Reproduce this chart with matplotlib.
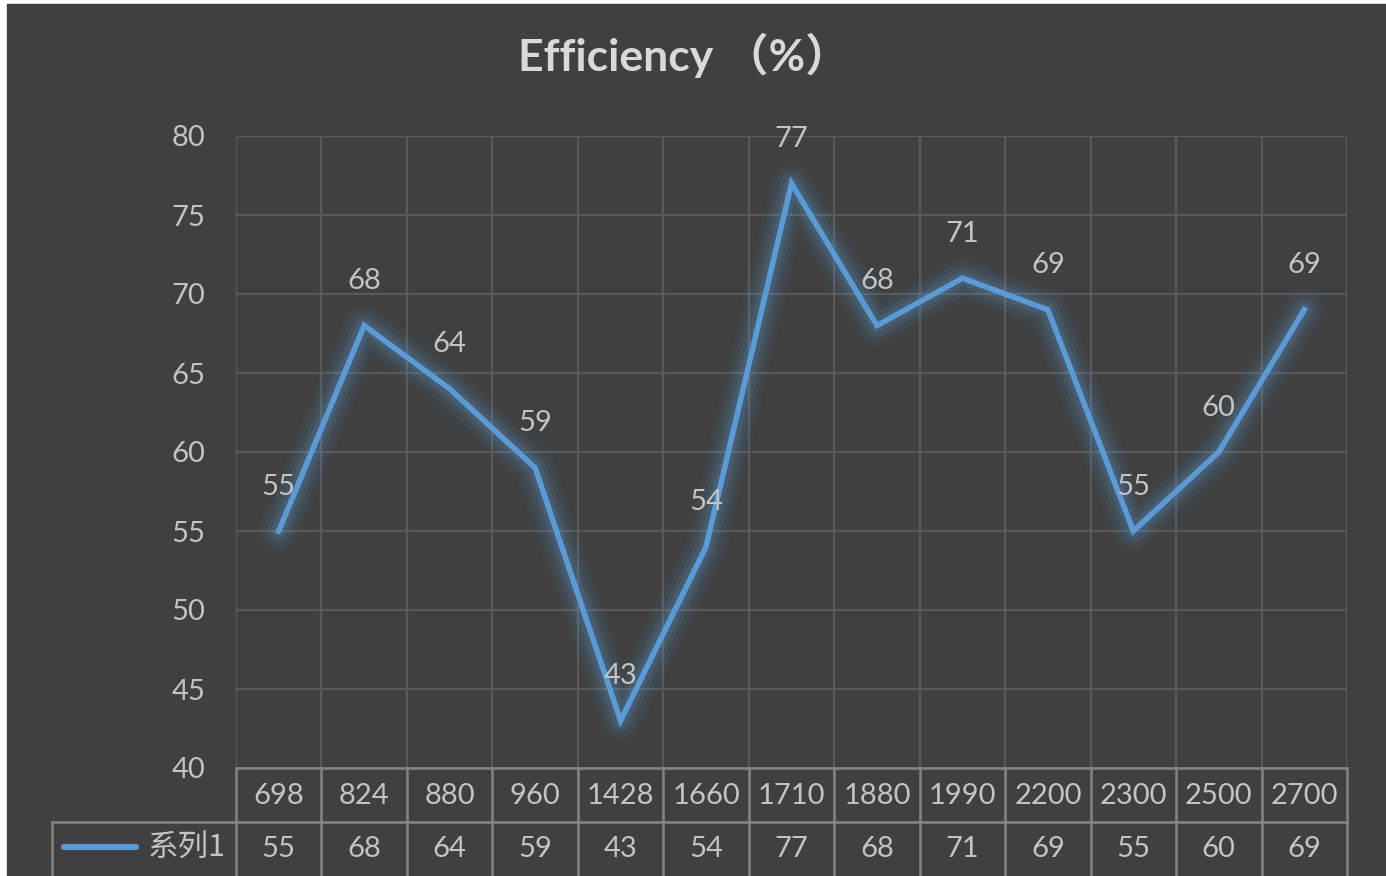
import matplotlib
matplotlib.use("Agg")
import matplotlib.pyplot as plt
from matplotlib.lines import Line2D
from matplotlib.patches import Rectangle
import matplotlib.transforms as mtransforms

# Dados do gráfico
categorias = ["698", "824", "880", "960", "1428", "1660", "1710",
              "1880", "1990", "2200", "2300", "2500", "2700"]
eficiencia = [55, 68, 64, 59, 43, 54, 77, 68, 71, 69, 55, 60, 69]
serie_nome = "系列1"
titulo = "Efficiency （%）"
yticks = [40, 45, 50, 55, 60, 65, 70, 75, 80]

# Cores
fundo = "#404040"
grade = "#595959"
borda_tabela = "#858585"
texto = "#C4C4C4"
azul = "#5B9BD5"

W, H = 1386, 876
plt.rcParams["font.family"] = ["Lato", "Noto Sans CJK SC", "DejaVu Sans"]

fig = plt.figure(figsize=(W / 100, H / 100), dpi=100, facecolor="white")

# fundo escuro (com pequena margem branca à esquerda e em cima)
fig.patches.append(Rectangle((7 / W, 0), 1 - 7 / W, 1 - 4 / H,
                             transform=fig.transFigure, color=fundo, zorder=-1))

ax = fig.add_axes([236 / W, 1 - 768 / H, (1347 - 236) / W, (768 - 136) / H])
ax.patch.set_alpha(0)

x = list(range(len(categorias)))

# brilho em volta da linha
for lw, a in [(30, 0.05), (23, 0.07), (16, 0.10), (10, 0.15)]:
    ax.plot(x, eficiencia, color=azul, lw=lw, alpha=a,
            solid_capstyle="round", solid_joinstyle="round", zorder=3)
ax.plot(x, eficiencia, color=azul, lw=4.0, solid_joinstyle="miter", zorder=4)

# rótulos de dados
for xi, v in zip(x, eficiencia):
    ax.annotate(str(v), (xi, v), xytext=(0, 32), textcoords="offset points",
                ha="center", va="center", fontsize=21, color=texto, zorder=5)

ax.set_xlim(-0.5, len(categorias) - 0.5)
ax.set_ylim(40, 80)
ax.set_yticks(yticks)
ax.set_xticks([i - 0.5 for i in range(len(categorias) + 1)])
ax.tick_params(axis="both", length=0, colors=texto, labelsize=21, pad=22)
ax.set_xticklabels([])
ax.grid(True, color=grade, lw=1.6, zorder=1)
for s in ax.spines.values():
    s.set_visible(False)

# tabela de dados embaixo do gráfico
def fy(px):
    return 1 - px / H

trans = mtransforms.blended_transform_factory(ax.transData, fig.transFigure)
for i in range(len(categorias) + 1):
    fig.add_artist(Line2D([i - 0.5, i - 0.5], [fy(768), fy(876)], color=borda_tabela,
                          lw=1.8, transform=trans))
fig.add_artist(Line2D([236 / W, 1347 / W], [fy(768), fy(768)], color=borda_tabela,
                      lw=1.8, transform=fig.transFigure))
fig.add_artist(Line2D([52 / W, 1347 / W], [fy(822), fy(822)], color=borda_tabela,
                      lw=1.8, transform=fig.transFigure))
fig.add_artist(Line2D([52 / W, 52 / W], [fy(822), fy(876)], color=borda_tabela,
                      lw=1.8, transform=fig.transFigure))

for xi, cat, v in zip(x, categorias, eficiencia):
    fig.text(xi, fy(796), cat, transform=trans, ha="center", va="center",
             fontsize=21, color=texto)
    fig.text(xi, fy(849), str(v), transform=trans, ha="center", va="center",
             fontsize=21, color=texto)

# legenda na tabela
fig.add_artist(Line2D([64 / W, 136 / W], [fy(847), fy(847)], color=azul, lw=4.5,
                      solid_capstyle="round", transform=fig.transFigure))
fig.text(226 / W, fy(848), serie_nome, ha="right", va="center", fontsize=22,
         color=texto, family=["Noto Sans CJK SC", "DejaVu Sans"])

fig.text(684 / W, fy(55), titulo, ha="center", va="center", fontsize=32,
         fontweight="bold", color="#D9D9D9",
         family=["Lato", "Noto Sans CJK SC", "DejaVu Sans"])

fig.savefig("out.png", dpi=100, facecolor=fig.get_facecolor())
